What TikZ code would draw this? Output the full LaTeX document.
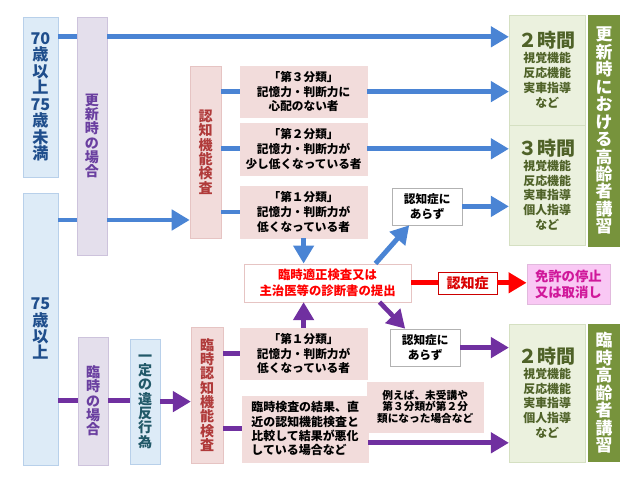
\documentclass[tikz,border=0pt]{standalone}
\usepackage{fontspec}
\setmainfont{Noto Sans CJK JP}
\usepackage{xcolor}
\usetikzlibrary{arrows.meta}
\definecolor{AgeFill}{HTML}{DDEBF7}
\definecolor{AgeLine}{HTML}{B8D0EA}
\definecolor{AgeText}{HTML}{1F4E8C}
\definecolor{CaseFill}{HTML}{E4DFEC}
\definecolor{CaseLine}{HTML}{CDC3DC}
\definecolor{CaseText}{HTML}{6A3FA0}
\definecolor{ActText}{HTML}{215868}
\definecolor{TestFill}{HTML}{F2DCDB}
\definecolor{TestLine}{HTML}{E6C4C3}
\definecolor{TestText}{HTML}{B03A3A}
\definecolor{LecFill}{HTML}{EBF1DE}
\definecolor{LecLine}{HTML}{D5E0C2}
\definecolor{LecText}{HTML}{4F6228}
\definecolor{BarFill}{HTML}{77933C}
\definecolor{ArrBlue}{HTML}{4A84D4}
\definecolor{ArrPurple}{HTML}{7030A0}
\definecolor{ArrRed}{HTML}{FF0000}
\definecolor{StopFill}{HTML}{F9C8F4}
\definecolor{StopText}{HTML}{D0189A}

\begin{document}
\begin{tikzpicture}[x=1cm,y=1cm,
  box/.style={inner sep=0pt,align=center,font=\fontsize{8.3}{10.6}\selectfont\bfseries},
  vtext/.style={font=\fontsize{10}{10.2}\selectfont\bfseries},
  agebox/.style={box,fill=AgeFill,draw=AgeLine,text=AgeText,font=\fontsize{11.5}{11.7}\selectfont\bfseries},
  casebox/.style={box,vtext,fill=CaseFill,draw=CaseLine,text=CaseText},
  actbox/.style={box,vtext,fill=AgeFill,draw=AgeLine,text=ActText},
  testbox/.style={box,vtext,fill=TestFill,draw=TestLine,text=TestText},
  classbox/.style={box,fill=TestFill,draw=TestFill,text=black,minimum width=3.18cm},
  nobox/.style={box,fill=white,draw=black!30,minimum width=1.75cm,minimum height=0.93cm},
  lecbox/.style={box,fill=LecFill,draw=LecLine,text=LecText,minimum width=1.90cm,font=\fontsize{8.5}{10.6}\selectfont\bfseries},
  barbox/.style={box,fill=BarFill,text=white,minimum width=0.80cm,font=\fontsize{12}{12.4}\selectfont\bfseries},
  blueline/.style={draw=ArrBlue,line width=3.5pt},
  bluearr/.style={blueline,-{Triangle[length=0.45cm,width=0.5cm]}},
  purpleline/.style={draw=ArrPurple,line width=3.3pt},
  purplearr/.style={purpleline,-{Triangle[length=0.45cm,width=0.5cm]}},
  redline/.style={draw=ArrRed,line width=3.5pt},
  redarr/.style={redline,-{Triangle[length=0.45cm,width=0.5cm]}}]
\path[use as bounding box] (0,0) rectangle (16.00,12.00);
\node[agebox,minimum width=0.88cm,minimum height=4.00cm] (age70) at (1.01,9.58) {70\\歳\\以\\上\\75\\歳\\未\\満};
\node[agebox,minimum width=0.88cm,minimum height=6.80cm] (age75) at (1.01,3.78) {75\\歳\\以\\上};
\node[casebox,minimum width=0.75cm,minimum height=5.95cm] (renew) at (2.30,8.60) {更\\新\\時\\の\\場\\合};
\node[casebox,minimum width=0.75cm,minimum height=3.20cm] (tmpcase) at (2.33,1.98) {臨\\時\\の\\場\\合};
\node[actbox,minimum width=0.75cm,minimum height=3.13cm] (violate) at (3.63,1.96) {一\\定\\の\\違\\反\\行\\為};
\node[testbox,minimum width=0.78cm,minimum height=4.30cm] (cogtest) at (5.14,8.20) {認\\知\\機\\能\\検\\査};
\node[testbox,minimum width=0.80cm,minimum height=3.40cm] (tmptest) at (5.18,2.13) {臨\\時\\認\\知\\機\\能\\検\\査};
\node[classbox,minimum height=1.28cm] (cat3) at (7.59,9.71) {「第３分類」\\記憶力・判断力に\\心配のない者};
\node[classbox,minimum height=1.30cm] (cat2) at (7.59,8.28) {「第２分類」\\記憶力・判断力が\\少し低くなっている者};
\node[classbox,minimum height=1.30cm] (cat1) at (7.59,6.70) {「第１分類」\\記憶力・判断力が\\低くなっている者};
\node[classbox,minimum height=1.28cm] (cat1b) at (7.59,3.16) {「第１分類」\\記憶力・判断力が\\低くなっている者};
\node[classbox,minimum width=3.15cm,minimum height=1.65cm,align=left,font=\fontsize{8.5}{10.2}\selectfont\bfseries] (worse) at (7.63,1.28) {臨時検査の結果、直\\近の認知機能検査と\\比較して結果が悪化\\している場合など};
\node[classbox,minimum width=2.90cm,minimum height=1.25cm,font=\fontsize{7.6}{8.0}\selectfont\bfseries] (example) at (10.63,1.83) {例えば、未受講や\\第３分類が第２分\\類になった場合など};
\node[box,fill=white,draw=TestLine,text=ArrRed,minimum width=4.18cm,minimum height=0.95cm,font=\fontsize{8.8}{11.5}\selectfont\bfseries] (exam) at (8.19,4.93) {臨時適正検査又は\\主治医等の診断書の提出};
\node[nobox] (nodemA) at (10.68,6.84) {認知症に\\あらず};
\node[nobox] (nodemB) at (10.63,3.31) {認知症に\\あらず};
\node[box,fill=white,draw=ArrRed!80!black,text=ArrRed!85!black,minimum width=1.48cm,minimum height=0.55cm,font=\fontsize{10}{11}\selectfont\bfseries] (dem) at (11.69,4.93) {認知症};
\node[box,fill=StopFill,draw=StopFill!80!gray,text=StopText,minimum width=2.08cm,minimum height=1.00cm,font=\fontsize{9.5}{11.4}\selectfont\bfseries] (stop) at (14.21,4.90) {免許の停止\\又は取消し};
\node[lecbox,minimum height=2.75cm] (lec2) at (13.68,10.25) {{\fontsize{13.5}{15}\selectfont ２時間}\\視覚機能\\反応機能\\実車指導\\など};
\node[lecbox,minimum height=3.00cm] (lec3) at (13.68,7.38) {{\fontsize{13.5}{15}\selectfont ３時間}\\視覚機能\\反応機能\\実車指導\\個人指導\\など};
\node[lecbox,minimum height=3.45cm] (lec2b) at (13.68,2.18) {{\fontsize{13.5}{15}\selectfont ２時間}\\視覚機能\\反応機能\\実車指導\\個人指導\\など};
\node[barbox,minimum height=5.80cm] (barA) at (15.10,8.73) {更\\新\\時\\に\\お\\け\\る\\高\\齢\\者\\講\\習};
\node[barbox,minimum height=3.45cm] (barB) at (15.10,2.18) {臨\\時\\高\\齢\\者\\講\\習};
\coordinate (toprow) at (0,11.08);
\coordinate (midrow) at (0,6.50);
\draw[blueline] (age70.east |- toprow) -- (renew.west |- toprow);
\draw[bluearr] (renew.east |- toprow) -- (lec2.west |- toprow);
\draw[blueline] (age75.east |- midrow) -- (renew.west |- midrow);
\draw[bluearr] (renew.east |- midrow) -- (cogtest.west |- midrow);
\draw[blueline] (cogtest.east |- cat3.west) -- (cat3.west);
\draw[blueline] (cogtest.east |- cat2.west) -- (cat2.west);
\draw[blueline] (cogtest.east |- cat1.west) -- (cat1.west);
\draw[bluearr] (cat3.east) -- (cat3.east -| lec2.west);
\draw[bluearr] (cat2.east) -- (cat2.east -| lec3.west);
\draw[bluearr] (cat1.south) -- (cat1.south |- exam.north);
\draw[bluearr] ([xshift=-0.90cm]exam.north east) -- ([xshift=-0.45cm]nodemA.south);
\draw[bluearr] (nodemA.east) -- (nodemA.east -| lec3.west);
\draw[redline] (exam.east) -- (dem.west);
\draw[redarr] (dem.east) -- (dem.east -| stop.west);
\draw[purpleline] (age75.east |- tmpcase.west) -- (tmpcase.west);
\draw[purpleline] (tmpcase.east) -- (tmpcase.east -| violate.west);
\draw[purplearr] (violate.east) -- (violate.east -| tmptest.west);
\draw[purpleline] (tmptest.east |- cat1b.west) -- (cat1b.west);
\draw[purpleline] (tmptest.east |- worse.west) -- (worse.west);
\draw[purplearr] (cat1b.north) -- (cat1b.north |- exam.south);
\draw[purplearr] ([xshift=-0.80cm]exam.south east) -- ([xshift=-0.50cm]nodemB.north);
\draw[purplearr] (nodemB.east) -- (nodemB.east -| lec2b.west);
\draw[purplearr] ([yshift=-0.35cm]worse.east) -- ([yshift=-0.35cm]worse.east -| lec2b.west);
\end{tikzpicture}
\end{document}
